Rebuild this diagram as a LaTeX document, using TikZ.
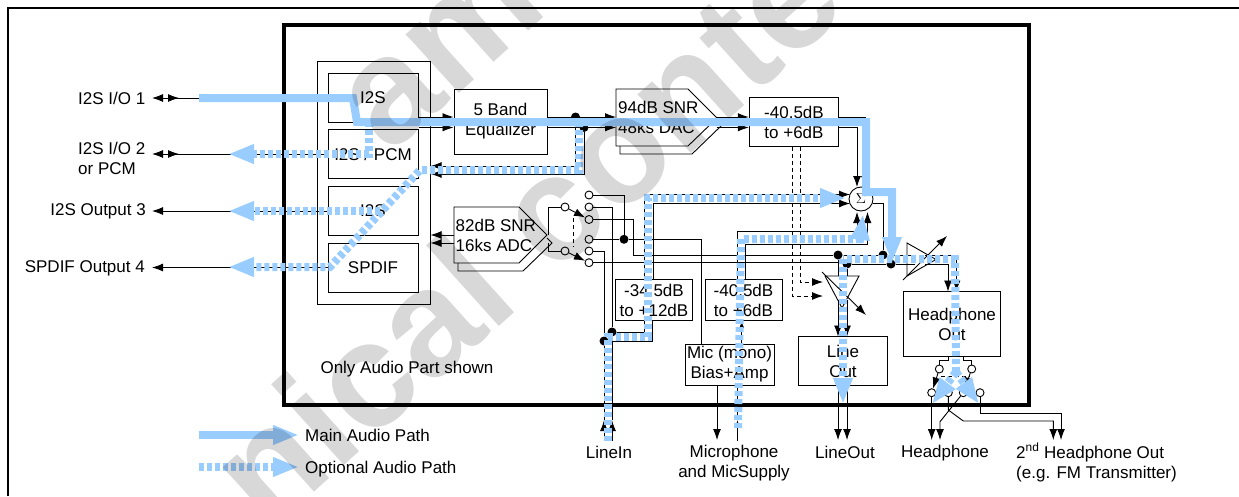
\documentclass[tikz,border=0pt]{standalone}
\usepackage{fontspec}
\setmainfont{Liberation Sans}
\usetikzlibrary{arrows.meta}
\definecolor{apath}{RGB}{153,204,255}
\definecolor{wmark}{RGB}{216,216,216}
\begin{document}
\begin{tikzpicture}[x=1pt,y=-1pt,>={Latex[length=11pt,width=8pt]},
font=\fontsize{17}{20}\selectfont,
wr/.style={line width=.9pt}, dsh/.style={wr,dash pattern=on 4pt off 3pt},
bx/.style={draw,line width=1pt,inner sep=0pt,align=center},
tx/.style={inner sep=0pt,align=left},
dt/.style={circle,fill,inner sep=0pt,minimum size=9pt},
sw/.style={circle,draw,fill=white,line width=.9pt,inner sep=0pt,minimum size=8pt},
mn/.style={apath,line width=8pt},
op/.style={apath,line width=8pt,dash pattern=on 5pt off 3pt},
hd/.style={-{Triangle[length=26pt,width=18pt]}},
sm/.style={-{Latex[length=7pt,width=5pt]}},
wm/.style={wmark,anchor=base west,inner sep=0pt,rotate=42,font=\fontsize{150}{150}\selectfont\bfseries}]
\useasboundingbox (0,0) rectangle (1239,496);
\draw[line width=2pt] (8,496)--(8,8)--(1239,8);
\draw[line width=3.5pt] (284,25) rectangle (1029,405);
% blocks
\node[bx,minimum width=113pt,minimum height=243pt] (grp) at (373.5,182.5) {};
\foreach \n/\y/\t in {ia/97.5/I2S,ib/154/{I2S / PCM},ic/211/I2S,id/267.5/SPDIF}{
\node[bx,minimum width=90pt,minimum height=49pt] (\n) at (373,\y) {\t};}
\node[bx,minimum width=93pt,minimum height=65pt] (eq) at (500.5,121.5) {5 Band\\Equalizer};
\node[bx,minimum width=89.5pt,minimum height=49pt] (ga) at (794,122) {-40.5dB\\to +6dB};
\node[bx,minimum width=77.5pt,minimum height=41pt] (gb) at (654,300) {-34.5dB\\to +12dB};
\node[bx,minimum width=77pt,minimum height=41pt] (gc) at (743.5,300) {-40.5dB\\to +6dB};
\node[bx,minimum width=89pt,minimum height=41pt] (mic) at (729.5,364.5) {Mic (mono)\\Bias+Amp};
\node[bx,minimum width=89pt,minimum height=48.5pt] (lo) at (843,361) {Line\\Out};
\node[bx,minimum width=97.5pt,minimum height=65pt] (hp) at (952,324.2) {Headphone\\Out};
\node[circle,draw,line width=.9pt,minimum size=24pt,inner sep=0pt,font=\fontsize{14}{14}\selectfont] (sum) at (861,199) {$\Sigma$};
\draw[wr] (620,146)--(620,154)--(692,154)--(721,126)--(717,122);
\draw[wr] (616,89)--(688,89)--(717,118)--(688,146)--(616,146)--cycle;
\draw[wr] (458,263)--(458,271)--(523,271)--(552,243)--(547,238);
\draw[wr] (454,207)--(519,207)--(547,235)--(519,263)--(454,263)--cycle;
\node[tx,anchor=west] (dac) at (618,117.5) {94dB SNR\\48ks DAC};
\node[tx,anchor=west] (adc) at (455.5,235) {82dB SNR\\16ks ADC};
\draw[wr] (907,243)--(936,259.5)--(907,276)--cycle;
\draw[wr] (825,276)--(859,276)--(842,308)--cycle;
\draw[wr,->] (903,280)--(947,236);
\draw[wr,->] (822,272)--(866,315);
% labels
\node[tx,anchor=west] (la) at (78,98) {I2S I/O 1};
\node[tx,anchor=west] (lb) at (78,158) {I2S I/O 2\\or PCM};
\node[tx,anchor=east] (lc) at (146,211) {I2S Output 3};
\node[tx,anchor=east] (ld) at (145,268) {SPDIF Output 4};
\node[tx] (note) at (407,369) {Only Audio Part shown};
\node[tx,align=center] (lin) at (609,452.5) {LineIn};
\node[tx,align=center] (lmic) at (734,463) {Microphone\\and MicSupply};
\node[tx,align=center] (lout) at (845,452.5) {LineOut};
\node[tx,align=center] (lhp) at (945,453) {Headphone};
\node[tx,anchor=west] (lfm) at (1016,462.5) {2\textsuperscript{nd} Headphone Out\\(e.g. FM Transmitter)};
\node[tx,anchor=west] (lm) at (305,435) {Main Audio Path};
\node[tx,anchor=west] (lp) at (305,469) {Optional Audio Path};
% switches
\foreach \n/\x/\y in {su/565/207,sd/565/251,cua/589/195,cub/589/207,cuc/589/219.5,cda/589/239.3,cdb/589/251,cdc/589/262.7,
pa/939.3/369,pb/971.7/369,ha/931.7/392.7,hb/948.3/392.7,hc/963.3/392.7,hd/980/392.7}{
\node[sw] (\n) at (\x,\y) {};}
\foreach \n/\x/\y in {da/575.5/117,db/584/127.5,ja/624/239.3,jb/612/332,jc/604/341,jd/838/255,je/847/264,jf/883/255,jg/891/264}{
\node[dt] (\n) at (\x,\y) {};}
% ports
\foreach \y in {98,154}{\draw[wr,<-] (152,\y)--(ia.west |- 0,\y); \draw[wr,->] (166,\y)--(179,\y);}
\foreach \y in {211,267.5}{\draw[wr,<-] (152,\y)--(ia.west |- 0,\y);}
\foreach \y in {117,127.5}{
\draw[wr,->] (ia.east |- 0,\y)--(eq.west |- 0,\y);
\draw[wr,->] (eq.east |- 0,\y)--(616,\y);
\draw[wr,->] (717,\y)--(ga.west |- 0,\y);}
\draw[wr,->] (da) |- (grp.east |- 0,166);
\draw[wr,->] (db) |- (grp.east |- 0,174);
\foreach \y in {235,243}{\draw[wr,->] (454,\y)--(grp.east |- 0,\y);}
\draw[wr] (su.west) -| (548,235); \draw[wr] (sd.west) -| (548,243);
\draw[dsh] (573,218)--(573,247);
\draw[wr,->] (su)--(cuc); \draw[wr,->] (sd)--(cdc);
\draw[wr] (cua) -| (ja); \draw[wr] (cda)--(ja) -| (701,344);
\draw[wr] (cub) -| (jb); \draw[wr] (cdb) -| (jc);
\draw[wr] (cuc) -| (633,255)--(jd)--(jf)--(915,255);
\draw[wr] (cdc)--(je |- cdc)--(je)--(jg)--(915,264);
\draw[wr] (jb) -| (644,320); \draw[wr] (jc) -| (652,320);
\draw[wr,->] (612,441)--(612,420); \draw[wr] (612,420)--(jb);
\draw[wr,->] (604,441)--(604,420); \draw[wr] (604,420)--(jc);
\draw[wr,->] (644,279.5)--(644,194.5)--(850,194.5);
\draw[wr,->] (653,279.5)--(653,203.5)--(850,203.5);
\draw[wr,->] (737,279.5)--(737,231.7)--(857,231.7)--(857,212);
\draw[wr,->] (745.7,279.5)--(745.7,244)--(867.5,244)--(867.5,212);
\draw[wr,->] (ga.east |- 0,117)--(865,117)--(865,187);
\draw[wr,->] (ga.east |- 0,127.5)--(857,127.5)--(857,187);
\draw[wr] (sum.east |- 0,203)--(883,203)--(jf);
\draw[wr] (sum.east |- 0,194)--(891,194)--(jg);
\draw[dsh,->] (800,146.5)--(800,282)--(823,282);
\draw[dsh,->] (792,146.5)--(792,296)--(823,296);
\draw[wr] (jd)--(838,276); \draw[wr] (je)--(847,276);
\foreach \x in {838,847}{\draw[wr,->] (\x,300)--(\x,336.5); \draw[wr,->] (\x,385)--(\x,440);}
\draw[wr,sm] (741.7,344)--(741.7,321);
\draw[wr,->] (717,385)--(717,440);
\draw[wr,sm] (737.5,441)--(737.5,420); \draw[wr] (737.5,420)--(737.5,385);
\draw[wr,->] (925,255)--(956.5,255)--(956.5,291.5);
\draw[wr,->] (925,264)--(948,264)--(948,291.5);
\draw[wr] (948,356.7)--(948,360.7)--(pa.north |- 0,360.7)--(pa);
\draw[wr] (963,356.7)--(963,360.7)--(pb.north |- 0,360.7)--(pb);
\draw[dsh] (941,376.7)--(970,376.7);
\draw[wr,->] (pa)--(ha); \draw[wr,->] (pb)--(hc);
\draw[wr,->] (ha)--(931.7,440);
\draw[wr,->] (hc)--(940,421.7)--(940,440);
\draw[wr,->] (hb)--(948.3,410)--(963.3,421)--(1053.3,421)--(1053.3,440);
\draw[wr,->] (hd)--(980,413.3)--(1061,413.3)--(1061,440);
% audio paths
\foreach \n/\x/\y in {a1/199/98,a2/353/98,a3/357/122,a4/866/122,a5/866/192,a6/892/192,a7/892/263,
b1/369/122,b2/369/154,b3/228/154,c1/380/211,c2/228/211,d1/579/122,d2/579/170,d3/420/170,d4/330/267,d5/228/267,
e1/608/441,e2/608/337,e3/648/337,e4/648/198,e5/846/198,f1/738/428,f2/741/239,f3/860/239,f4/863/214,
g1/955/259,g2/843/259,g3/843/404,g4/956/372,g5/932/404,g6/979/404,
m1/199/435,m2/299/435,o1/199/467,o2/299/467}{
\coordinate (\n) at (\x,\y);}
\draw[op,hd] (b1)--(b2)--(b3);
\draw[op,hd] (c1)--(c2);
\draw[op,hd] (d1)--(d2)--(d3)--(d4)--(d5);
\draw[op,hd] (e1)--(e2)--(e3)--(e4)--(e5);
\draw[op,hd] (f1)--(f2)--(f3)--(f4);
\draw[op] (g4)--(g1)--(g2);
\draw[op,hd] (g2)--(g3);
\draw[op,hd] (g4)--(g5);
\draw[op,hd] (g4)--(g6);
\draw[mn,hd] (a1)--(a2)--(a3)--(a4)--(a5)--(a6)--(a7);
\draw[mn,hd] (m1)--(m2);
\draw[op,hd] (o1)--(o2);
% watermark
\begin{scope}[blend mode=multiply]
\node[wm] (wa) at (389,156) {am};
\node[wm] (wb) at (268,534) {nical conte};
\end{scope}
\end{tikzpicture}
\end{document}
